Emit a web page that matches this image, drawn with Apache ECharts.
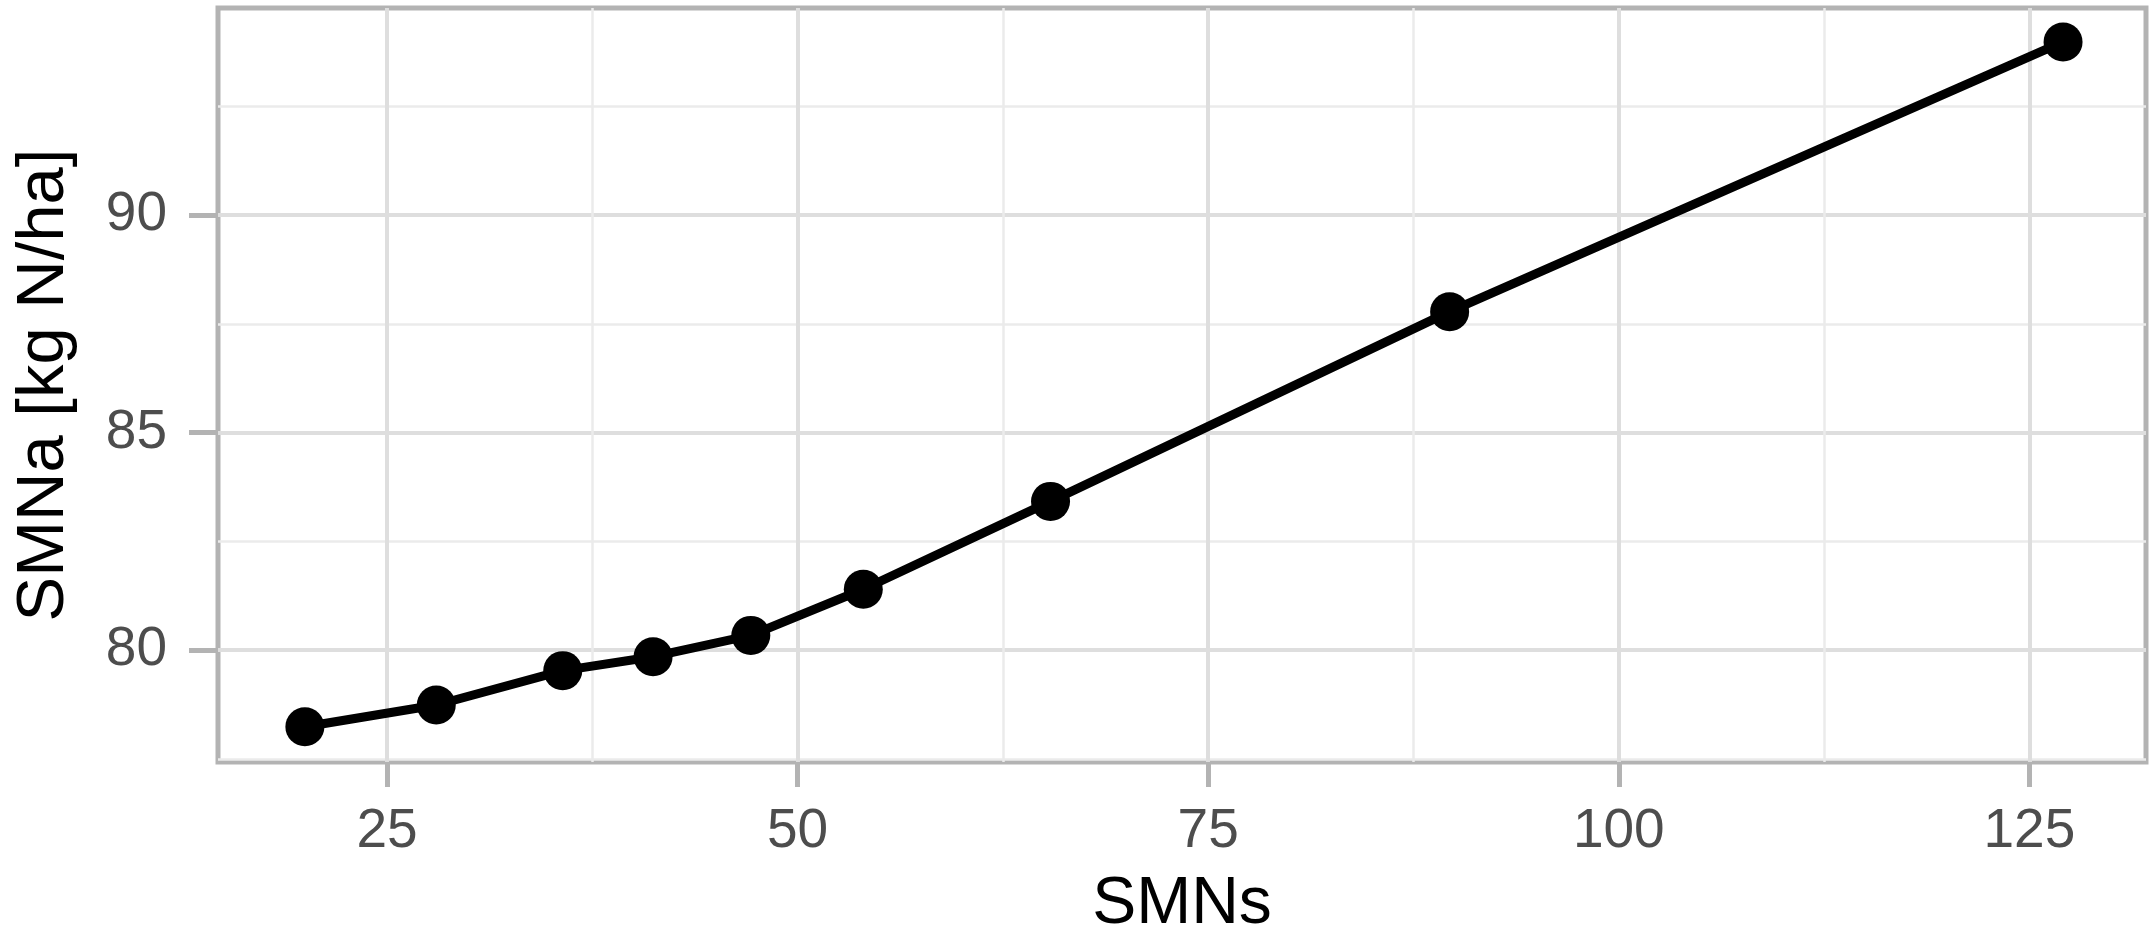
<!DOCTYPE html>
<html>
<head>
<meta charset="utf-8">
<script src="https://cdn.jsdelivr.net/npm/echarts@6/dist/echarts.min.js"></script>
<style>html,body{margin:0;padding:0;background:#fff}#c{width:2151px;height:952px}</style>
</head>
<body>
<div id="c"></div>
<script>
const smns = [20.0, 28.0, 35.7, 41.2, 47.15, 54.0, 65.4, 89.7, 127.05];
const smna = [78.24, 78.74, 79.53, 79.85, 80.34, 81.40, 83.42, 87.78, 93.98];
const xMajorTicks = [25, 50, 75, 100, 125];
const xMinorTicks = [12.5, 37.5, 62.5, 87.5, 112.5];
const yMajorTicks = [80, 85, 90];
const yMinorTicks = [77.5, 82.5, 87.5, 92.5];
const xRange = [14.71, 132.1];
const yRange = [77.43, 94.76];

const FONT = '"Liberation Sans", Arial, sans-serif';
const chart = echarts.init(document.getElementById('c'), null, {renderer: 'canvas'});

const pts = smns.map((x, i) => [x, smna[i]]);

chart.setOption({
  backgroundColor: '#ffffff',
  animation: false,
  grid: {left: 218, right: 5, top: 8, bottom: 190, show: true, borderColor: '#b3b3b3', borderWidth: 5, backgroundColor: 'transparent'},
  xAxis: [{
    type: 'value', min: xRange[0], max: xRange[1],
    name: 'SMNs', nameLocation: 'middle', nameGap: 110,
    nameTextStyle: {fontFamily: FONT, fontSize: 66, color: '#000'},
    axisLine: {show: false},
    axisTick: {show: true, length: 25, lineStyle: {color: '#b3b3b3', width: 5}, customValues: xMajorTicks},
    axisLabel: {show: true, margin: 42, fontFamily: FONT, fontSize: 55, color: '#4d4d4d', customValues: xMajorTicks},
    splitLine: {show: true, lineStyle: {color: '#dedede', width: 4}}
  }, {
    type: 'value', min: xRange[0], max: xRange[1], position: 'bottom',
    axisLine: {show: false},
    axisTick: {show: false, customValues: xMinorTicks},
    axisLabel: {show: false, customValues: xMinorTicks},
    splitLine: {show: true, lineStyle: {color: '#ebebeb', width: 2.5}}
  }],
  yAxis: [{
    type: 'value', min: yRange[0], max: yRange[1],
    name: 'SMNa [kg N/ha]', nameLocation: 'middle', nameGap: 140,
    nameTextStyle: {fontFamily: FONT, fontSize: 67, color: '#000'},
    axisLine: {show: false},
    axisTick: {show: true, length: 29, lineStyle: {color: '#b3b3b3', width: 5}, customValues: yMajorTicks},
    axisLabel: {show: true, margin: 51, fontFamily: FONT, fontSize: 55, color: '#4d4d4d', customValues: yMajorTicks},
    splitLine: {show: true, lineStyle: {color: '#dedede', width: 4}}
  }, {
    type: 'value', min: yRange[0], max: yRange[1], position: 'left',
    axisLine: {show: false},
    axisTick: {show: false, customValues: yMinorTicks},
    axisLabel: {show: false, customValues: yMinorTicks},
    splitLine: {show: true, lineStyle: {color: '#ebebeb', width: 2.5}}
  }],
  series: [{
    type: 'line', xAxisIndex: 0, yAxisIndex: 0, data: pts,
    symbol: 'circle', symbolSize: 39, showSymbol: true,
    lineStyle: {color: '#000', width: 9},
    itemStyle: {color: '#000'},
    z: 10
  }]
});
</script>
</body>
</html>
